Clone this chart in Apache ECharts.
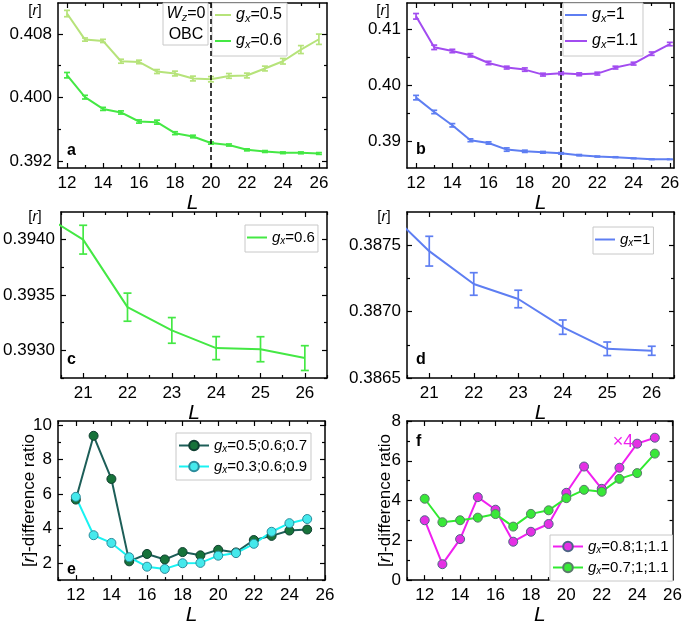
<!DOCTYPE html>
<html>
<head>
<meta charset="utf-8">
<script src="https://cdn.jsdelivr.net/npm/echarts@6/dist/echarts.min.js"></script>
<style>html,body{margin:0;padding:0;background:#fff;}#c{width:685px;height:627px;}</style>
</head>
<body>
<div id="c"></div>
<script>
// ---------- data ----------
var L_ab = [12, 13, 14, 15, 16, 17, 18, 19, 20, 21, 22, 23, 24, 25, 26];
var rA05 = [0.41057, 0.40729, 0.40712, 0.40456, 0.40447, 0.40326, 0.40301, 0.40238, 0.40229, 0.40271, 0.40276, 0.40364, 0.40456, 0.40603, 0.40733];
var errA05 = [0.0004, 0.0002, 0.0002, 0.00025, 0.00022, 0.00025, 0.0003, 0.0003, 0.00033, 0.0003, 0.0003, 0.0003, 0.00035, 0.0005, 0.00065];
var rA06 = [0.40280, 0.40003, 0.39855, 0.39810, 0.39696, 0.39688, 0.39549, 0.39507, 0.39425, 0.39400, 0.39339, 0.39318, 0.39302, 0.39301, 0.39293];
var errA06 = [0.00034, 0.00023, 0.00019, 0.0002, 0.0002, 0.00025, 0.00018, 0.00016, 0.00014, 0.00013, 0.000127, 0.000116, 0.000104, 0.000113, 0.000112];
var rB1 = [0.39779, 0.39521, 0.39282, 0.39013, 0.38964, 0.38846, 0.38815, 0.38797, 0.38778, 0.387455, 0.387208, 0.387095, 0.386883, 0.38672, 0.386705];
var errB1 = [0.0004, 0.0003, 0.0003, 0.00025, 0.0002, 0.0003, 0.0002, 0.00015, 0.00013, 0.000112, 0.000085, 0.000066, 0.000054, 0.000051, 0.000034];
var rB11 = [0.41239, 0.40682, 0.40616, 0.40539, 0.40401, 0.40318, 0.40282, 0.40192, 0.40215, 0.40198, 0.40210, 0.40318, 0.40389, 0.40568, 0.40741];
var errB11 = [0.0005, 0.0004, 0.0003, 0.0003, 0.0003, 0.00025, 0.0003, 0.00025, 0.00025, 0.00025, 0.00025, 0.00025, 0.00025, 0.0003, 0.0003];

var L_ef = [12, 13, 14, 15, 16, 17, 18, 19, 20, 21, 22, 23, 24, 25];
var rE1 = [5.68, 9.39, 6.88, 2.09, 2.52, 2.20, 2.63, 2.44, 2.76, 2.61, 3.33, 3.57, 3.88, 3.94];
var rE2 = [5.84, 3.61, 3.16, 2.33, 1.78, 1.65, 1.98, 2.00, 2.42, 2.57, 3.11, 3.81, 4.31, 4.55];
var rF1 = [3.01, 0.80, 2.06, 4.17, 3.54, 1.93, 2.43, 2.82, 4.39, 5.71, 4.59, 5.65, 6.86, 7.16];
var rF2 = [4.09, 2.91, 3.01, 3.14, 3.32, 2.69, 3.33, 3.51, 4.12, 4.54, 4.44, 5.09, 5.38, 6.36];

var ticksX_ab = [12, 14, 16, 18, 20, 22, 24, 26];
var minorX_ab = [13, 15, 17, 19, 21, 23, 25];
var ticksX_cd = [21, 22, 23, 24, 25, 26];
var minorX_cd = [20.5, 21.5, 22.5, 23.5, 24.5, 25.5, 26.5];
var ticksX_ef = [12, 14, 16, 18, 20, 22, 24, 26];
var minorX_ef = [11, 13, 15, 17, 19, 21, 23, 25];
var ticksY_a = [0.392, 0.400, 0.408];
var minorY_a = [0.396, 0.404];
var ticksY_b = [0.39, 0.40, 0.41];
var minorY_b = [0.395, 0.405];
var ticksY_c = [0.3930, 0.3935, 0.3940];
var minorY_c = [0.39275, 0.39325, 0.39375];
var ticksY_d = [0.3865, 0.3870, 0.3875];
var minorY_d = [0.38675, 0.38725];
var ticksY_e = [2, 4, 6, 8, 10];
var minorY_e = [1, 3, 5, 7, 9];
var ticksY_f = [0, 2, 4, 6, 8];
var minorY_f = [1, 3, 5, 7];

// ---------- styling / layout ----------
var FONT = 'Liberation Sans, Arial, sans-serif';
var C = {a05: '#b6e37a', a06: '#44e844', b1: '#5e7ef2', b11: '#a24cf0',
  e1line: '#1d5e58', e1fill: '#17733a', e1border: '#0f3f30',
  e2line: '#19f2f2', e2fill: '#45e9ec', e2border: '#2b8c9c',
  f1line: '#f020f0', f1fill: '#e430e4', f1border: '#4d6585',
  f2line: '#30ea30', f2fill: '#38e838', f2border: '#5a7a6a'};
var SUBRICH = {
  i: {fontStyle: 'italic', fontFamily: FONT, fontSize: 16},
  s: {fontStyle: 'italic', fontSize: 11, fontFamily: FONT, padding: [7, 0, 0, 0]}
};

var grids = [], xAxes = [], yAxes = [], series = [], legends = [], graphics = [];

function axisBase(gi, min, max) {
  return {type: 'value', gridIndex: gi, min: min, max: max, silent: true,
    splitLine: {show: false},
    axisLine: {show: true, onZero: false, lineStyle: {color: '#000', width: 1.5}},
    axisTick: {show: true, inside: true, length: 5, lineStyle: {color: '#000', width: 1.2}},
    axisLabel: {show: false}};
}
function addPanel(p) {
  var gi = grids.length;
  grids.push({left: p.box[0], top: p.box[1], width: p.box[2], height: p.box[3], containLabel: false});
  var xi = xAxes.length, yi = yAxes.length;
  var xm = axisBase(gi, p.x[0], p.x[1]);
  xm.position = 'bottom';
  xm.axisTick.customValues = p.xt;
  xm.axisLabel = {show: true, customValues: p.xt, margin: 7, fontSize: 17, color: '#000', fontFamily: FONT,
    formatter: function (v) { return String(v); }};
  xm.name = 'L'; xm.nameLocation = 'middle'; xm.nameGap = p.nameGap;
  xm.nameTextStyle = {fontStyle: 'italic', fontSize: 21, color: '#000', fontFamily: FONT};
  xAxes.push(xm);
  var xb2 = axisBase(gi, p.x[0], p.x[1]); xb2.position = 'bottom'; xb2.axisLine.show = false;
  xb2.axisTick.customValues = p.xmn; xb2.axisTick.length = 3; xAxes.push(xb2);
  var xt1 = axisBase(gi, p.x[0], p.x[1]); xt1.position = 'top'; xt1.axisTick.customValues = p.xt; xAxes.push(xt1);
  var xt2 = axisBase(gi, p.x[0], p.x[1]); xt2.position = 'top'; xt2.axisLine.show = false;
  xt2.axisTick.customValues = p.xmn; xt2.axisTick.length = 3; xAxes.push(xt2);

  var ym = axisBase(gi, p.y[0], p.y[1]);
  ym.position = 'left';
  ym.axisTick.customValues = p.yt;
  ym.axisLabel = {show: true, customValues: p.yt, margin: 6, fontSize: 17, color: '#000', fontFamily: FONT,
    formatter: function (v) { return v.toFixed(p.dec); }};
  if (p.yName) {
    ym.name = p.yName; ym.nameLocation = 'middle'; ym.nameRotate = 90; ym.nameGap = p.yNameGap;
    ym.nameMoveOverlap = false;
    ym.nameTextStyle = {fontSize: 17, color: '#000', fontFamily: FONT, rich: {i: {fontStyle: 'italic', fontSize: 17, fontFamily: FONT}}};
  }
  yAxes.push(ym);
  var yb2 = axisBase(gi, p.y[0], p.y[1]); yb2.position = 'left'; yb2.axisLine.show = false;
  yb2.axisTick.customValues = p.ymn; yb2.axisTick.length = 3; yAxes.push(yb2);
  var yr1 = axisBase(gi, p.y[0], p.y[1]); yr1.position = 'right'; yr1.axisTick.customValues = p.yt; yAxes.push(yr1);
  var yr2 = axisBase(gi, p.y[0], p.y[1]); yr2.position = 'right'; yr2.axisLine.show = false;
  yr2.axisTick.customValues = p.ymn; yr2.axisTick.length = 3; yAxes.push(yr2);
  return {xi: xi, yi: yi};
}
function zip(xs, ys, from) {
  var out = [];
  for (var i = from || 0; i < xs.length; i++) out.push([xs[i], ys[i]]);
  return out;
}
function lineSeries(name, ax, xs, ys, color, from, extra) {
  var s = {name: name, type: 'line', xAxisIndex: ax.xi, yAxisIndex: ax.yi, data: zip(xs, ys, from),
    symbol: 'none', lineStyle: {color: color, width: 2}, itemStyle: {color: color}, z: 3, silent: true, animation: false};
  if (extra) for (var k in extra) s[k] = extra[k];
  series.push(s);
}
function errSeries(ax, xs, ys, es, color, cap, from) {
  var d = [];
  for (var i = from || 0; i < xs.length; i++) d.push([xs[i], ys[i] - es[i], ys[i] + es[i]]);
  series.push({type: 'custom', xAxisIndex: ax.xi, yAxisIndex: ax.yi, data: d, z: 4, silent: true, animation: false,
    renderItem: function (params, api) {
      var x = api.value(0);
      var p1 = api.coord([x, api.value(1)]), p2 = api.coord([x, api.value(2)]);
      var st = {stroke: color, lineWidth: 1.7};
      return {type: 'group', children: [
        {type: 'line', shape: {x1: p1[0], y1: p1[1], x2: p2[0], y2: p2[1]}, style: st},
        {type: 'line', shape: {x1: p1[0] - cap, y1: p1[1], x2: p1[0] + cap, y2: p1[1]}, style: st},
        {type: 'line', shape: {x1: p2[0] - cap, y1: p2[1], x2: p2[0] + cap, y2: p2[1]}, style: st}
      ]};
    }});
}
function markerSeries(name, ax, xs, ys, line, fill, border) {
  series.push({name: name, type: 'line', xAxisIndex: ax.xi, yAxisIndex: ax.yi, data: zip(xs, ys),
    symbol: 'circle', symbolSize: 9, showSymbol: true,
    lineStyle: {color: line, width: 2}, itemStyle: {color: fill, borderColor: border, borderWidth: 1},
    z: 3, silent: true, animation: false});
}
var LABELS = {
  a05: '{i|g}{s|x}=0.5', a06: '{i|g}{s|x}=0.6', b1: '{i|g}{s|x}=1', b11: '{i|g}{s|x}=1.1',
  c06: '{i|g}{s|x}=0.6', d1: '{i|g}{s|x}=1',
  e1: '{i|g}{s|x}=0.5;0.6;0.7', e2: '{i|g}{s|x}=0.3;0.6;0.9',
  f1: '{i|g}{s|x}=0.8;1;1.1', f2: '{i|g}{s|x}=0.7;1;1.1'
};
function addLegend(names, left, top, o) {
  var lg = {data: names, left: left, top: top, orient: 'vertical', selectedMode: false,
    itemWidth: o.iw, itemHeight: o.ih || 12, itemGap: o.gap, padding: o.pad,
    borderColor: '#c8c8c8', borderWidth: 1, backgroundColor: '#fff',
    textStyle: {fontSize: o.fs, color: '#000', fontFamily: FONT, rich: {
      i: {fontStyle: 'italic', fontSize: o.fs, fontFamily: FONT},
      s: {fontStyle: 'italic', fontSize: o.fs - 5, fontFamily: FONT, padding: [7, 0, 0, 0]}}},
    formatter: function (n) { return LABELS[n]; }};
  if (o.icon) lg.icon = o.icon;
  legends.push(lg);
}
function addText(txt, x, y, o) {
  graphics.push({type: 'text', x: x, y: y, z: 50, silent: true, style: {text: txt, fill: o.color || '#000',
    font: (o.weight || 'normal') + ' ' + (o.fs || 16) + 'px ' + FONT,
    align: o.align || 'center', verticalAlign: 'middle', rich: o.rich}});
}

// ---------- panels ----------
var pa = addPanel({box: [58, 3, 269, 165], x: [11.5, 26.45], xt: ticksX_ab, xmn: minorX_ab,
  y: [0.3911, 0.4119], yt: ticksY_a, ymn: minorY_a, dec: 3, nameGap: 21});
var pb = addPanel({box: [407, 3, 267, 165], x: [11.5, 26.23], xt: ticksX_ab, xmn: minorX_ab,
  y: [0.38515, 0.41478], yt: ticksY_b, ymn: minorY_b, dec: 2, nameGap: 21});
var pc = addPanel({box: [58, 212, 269, 166], x: [20.5, 26.5], xt: ticksX_cd, xmn: minorX_cd,
  y: [0.39275, 0.39425], yt: ticksY_c, ymn: minorY_c, dec: 4, nameGap: 18});
var pd = addPanel({box: [407, 212, 267, 166], x: [20.5, 26.5], xt: ticksX_cd, xmn: minorX_cd,
  y: [0.3865, 0.38775], yt: ticksY_d, ymn: minorY_d, dec: 4, nameGap: 18});
var pe = addPanel({box: [58, 421, 267, 166], x: [11, 26], xt: ticksX_ef, xmn: minorX_ef,
  y: [1, 10.25], yt: ticksY_e, ymn: minorY_e, dec: 0, nameGap: 17,
  yName: '[{i|r}]-difference ratio', yNameGap: 20});
var pf = addPanel({box: [407, 421, 269, 166], x: [11, 26], xt: ticksX_ef, xmn: minorX_ef,
  y: [0, 8], yt: ticksY_f, ymn: minorY_f, dec: 0, nameGap: 17,
  yName: '[{i|r}]-difference ratio', yNameGap: 13});

var dashed = {markLine: {silent: true, symbol: ['none', 'none'], label: {show: false}, animation: false,
  lineStyle: {color: '#000', type: [5, 3], width: 1.5}, data: [{xAxis: 20}]}};

lineSeries('a05', pa, L_ab, rA05, C.a05, 0, dashed);
errSeries(pa, L_ab, rA05, errA05, C.a05, 3);
lineSeries('a06', pa, L_ab, rA06, C.a06, 0);
errSeries(pa, L_ab, rA06, errA06, C.a06, 3);

lineSeries('b1', pb, L_ab, rB1, C.b1, 0, dashed);
errSeries(pb, L_ab, rB1, errB1, C.b1, 3);
lineSeries('b11', pb, L_ab, rB11, C.b11, 0);
errSeries(pb, L_ab, rB11, errB11, C.b11, 3);

lineSeries('c06', pc, L_ab, rA06, C.a06, 8);
errSeries(pc, L_ab, rA06, errA06, C.a06, 4, 9);
lineSeries('d1', pd, L_ab, rB1, C.b1, 8);
errSeries(pd, L_ab, rB1, errB1, C.b1, 4, 9);

markerSeries('e1', pe, L_ef, rE1, C.e1line, C.e1fill, C.e1border);
markerSeries('e2', pe, L_ef, rE2, C.e2line, C.e2fill, C.e2border);
markerSeries('f1', pf, L_ef, rF1, C.f1line, C.f1fill, C.f1border);
markerSeries('f2', pf, L_ef, rF2, C.f2line, C.f2fill, C.f2border);

addLegend(['a05', 'a06'], 212, 3, {iw: 16, ih: 2, icon: 'rect', gap: 9, pad: [4, 5, 6, 3], fs: 16});
addLegend(['b1', 'b11'], 563, 3, {iw: 22, ih: 2, icon: 'rect', gap: 9, pad: [4, 5, 6, 2], fs: 16});
addLegend(['c06'], 245, 225, {iw: 20, ih: 2, icon: 'rect', gap: 8, pad: [5, 3, 6, 2], fs: 15});
addLegend(['d1'], 593, 227, {iw: 20, ih: 2, icon: 'rect', gap: 8, pad: [5, 3, 6, 2], fs: 15});
addLegend(['e1', 'e2'], 176, 433, {iw: 30, gap: 5, pad: [5, 4, 5, 2], fs: 15});
addLegend(['f1', 'f2'], 550, 535, {iw: 30, gap: 5, pad: [4, 4, 5, 2], fs: 15});

// W_z=0 / OBC box
graphics.push({type: 'rect', shape: {x: 163, y: 3, width: 45, height: 42}, z: 40, silent: true,
  style: {fill: '#fff', stroke: '#c8c8c8', lineWidth: 1}});
addText('{i|W}{s|z}=0', 186, 14, {fs: 16, rich: SUBRICH});
addText('OBC', 186, 35, {fs: 16});

// [r] labels
var RR = {i: {fontStyle: 'italic', fontFamily: FONT, fontSize: 15}};
addText('[{i|r}]', 35, 11, {fs: 15, rich: RR});
addText('[{i|r}]', 383, 11, {fs: 15, rich: RR});
addText('[{i|r}]', 35, 217, {fs: 15, rich: RR});
addText('[{i|r}]', 384, 217, {fs: 15, rich: RR});

// panel letters
addText('a', 67, 151, {fs: 16, weight: 'bold', align: 'left'});
addText('b', 416, 150, {fs: 16, weight: 'bold', align: 'left'});
addText('c', 67, 360, {fs: 16, weight: 'bold', align: 'left'});
addText('d', 416, 360, {fs: 16, weight: 'bold', align: 'left'});
addText('e', 67, 570, {fs: 16, weight: 'bold', align: 'left'});
addText('f', 416, 442, {fs: 16, weight: 'bold', align: 'left'});
addText('\u00d74', 623, 442, {fs: 18, color: '#ee22ee'});

var chart = echarts.init(document.getElementById('c'), null, {renderer: 'canvas'});
chart.setOption({
  animation: false,
  backgroundColor: '#fff',
  grid: grids, xAxis: xAxes, yAxis: yAxes, series: series, legend: legends, graphic: graphics
});
</script>
</body>
</html>
